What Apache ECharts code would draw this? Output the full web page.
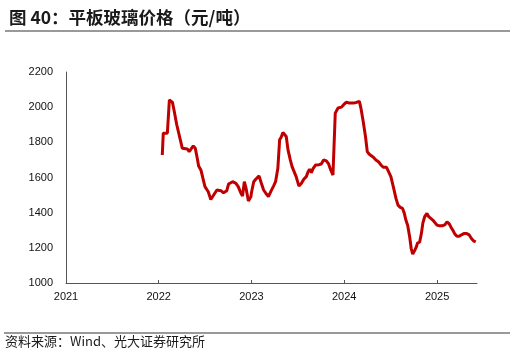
<!DOCTYPE html>
<html><head><meta charset="utf-8">
<script src="https://cdn.jsdelivr.net/npm/echarts@6/dist/echarts.min.js"></script>
<style>html,body{margin:0;padding:0;background:#fff}#c{width:516px;height:353px}</style>
</head><body><div id="c"></div>
<script>
const titleText = '图 40：平板玻璃价格（元/吨）';
const sourceText = '资料来源：Wind、光大证券研究所';
const yTicks = [1000, 1200, 1400, 1600, 1800, 2000, 2200];
const xMin = '2021-01-01';
const xMax = '2025-06-07';
const dates = [
'2022-01-15','2022-01-19','2022-02-04','2022-02-12','2022-02-24','2022-03-02','2022-03-13','2022-03-18','2022-04-04','2022-04-24',
'2022-05-01','2022-05-08','2022-05-17','2022-05-25','2022-06-03','2022-06-07','2022-06-16','2022-07-02','2022-07-15','2022-07-25',
'2022-08-01','2022-08-18','2022-09-03','2022-09-13','2022-09-26','2022-10-03','2022-10-19','2022-11-01','2022-11-10','2022-11-21',
'2022-11-27','2022-12-04','2022-12-11','2022-12-20','2022-12-30',
'2023-01-01','2023-01-10','2023-01-18','2023-01-31','2023-02-09','2023-02-18','2023-03-01','2023-03-09','2023-03-20','2023-03-29',
'2023-04-06','2023-04-15','2023-04-22','2023-04-28','2023-05-05','2023-05-11','2023-05-18','2023-05-25','2023-06-03','2023-06-10',
'2023-06-17','2023-06-26','2023-07-07','2023-07-17','2023-07-26','2023-08-05','2023-08-12','2023-08-18','2023-08-25','2023-09-01',
'2023-09-11','2023-09-24','2023-10-03','2023-10-12','2023-10-23','2023-11-01','2023-11-09','2023-11-18','2023-11-22','2023-11-27',
'2023-12-01','2023-12-08','2023-12-15','2023-12-21','2023-12-30',
'2024-01-10','2024-01-21','2024-02-05','2024-02-18','2024-03-01','2024-03-07','2024-03-16','2024-03-25','2024-04-01','2024-04-09',
'2024-04-16','2024-04-25','2024-05-05','2024-05-15','2024-05-25','2024-06-03','2024-06-16','2024-06-23','2024-07-03','2024-07-14',
'2024-07-23','2024-07-31','2024-08-09','2024-08-18','2024-08-25','2024-08-31','2024-09-07','2024-09-15','2024-09-21','2024-09-27',
'2024-10-04','2024-10-11','2024-10-16','2024-10-24','2024-10-31','2024-11-06','2024-11-13','2024-11-22','2024-11-29','2024-12-05',
'2024-12-15','2024-12-23',
'2025-01-01','2025-01-10','2025-01-20','2025-01-31','2025-02-09','2025-02-17','2025-02-24','2025-03-04','2025-03-12','2025-03-20',
'2025-03-29','2025-04-07','2025-04-16','2025-04-28','2025-05-07','2025-05-16','2025-05-24','2025-06-02'
];
const prices = [
1728,1852,1852,2042,2027,1985,1900,1890,1766,1762,
1747,1756,1780,1766,1700,1666,1643,1548,1519,1475,
1471,1529,1525,1513,1525,1563,1576,1567,1548,1510,
1494,1576,1538,1466,1491,
1513,1576,1590,1609,1567,1529,1506,1491,1525,1551,
1576,1652,1814,1829,1856,1867,1833,1757,1700,1662,
1658,1605,1551,1567,1590,1605,1633,1647,1628,1652,
1671,1673,1677,1700,1694,1677,1643,1614,1614,1966,
1970,1995,2004,2000,2014,
2029,2023,2023,2027,2033,1995,1919,1833,1747,1732,
1734,1715,1700,1690,1671,1658,1658,1647,1605,1538,
1481,1443,1430,1424,1396,1358,1329,1262,1196,1164,
1183,1205,1228,1232,1281,1342,1377,1396,1377,1367,
1358,1344,
1329,1325,1325,1331,1348,1338,1319,1300,1278,1266,
1266,1274,1281,1281,1274,1253,1240,1234
];

const chart = echarts.init(document.getElementById('c'), null, {renderer: 'canvas'});
const YEAR = 365 * 24 * 3600 * 1000;
chart.setOption({
  animation: false,
  backgroundColor: '#fff',
  title: {
    text: titleText, left: 4, top: 4,
    textStyle: {fontFamily: 'Noto Sans CJK SC', fontSize: 17.5, fontWeight: 'bold', color: '#1a1a1a'}
  },
  graphic: [
    {type: 'line', shape: {x1: 5, y1: 31, x2: 510, y2: 31}, style: {stroke: '#777', lineWidth: 1.5}},
    {type: 'line', shape: {x1: 4, y1: 333, x2: 510, y2: 333}, style: {stroke: '#777', lineWidth: 1.5}},
    {type: 'text', left: 5, top: 335, style: {text: sourceText, font: '13px "Noto Sans CJK SC"', fill: '#1a1a1a'}}
  ],
  grid: {left: 66, right: 39, top: 72, bottom: 70, containLabel: false},
  xAxis: {
    type: 'time', min: xMin, max: xMax,
    minInterval: YEAR, maxInterval: YEAR,
    axisLine: {lineStyle: {color: '#555', width: 1}},
    axisTick: {show: true, inside: true, length: 3, lineStyle: {color: '#555'}},
    axisLabel: {formatter: '{yyyy}', color: '#111', fontSize: 11, fontFamily: 'Liberation Sans', margin: 8, showMinLabel: true, showMaxLabel: false, hideOverlap: false},
    splitLine: {show: false}
  },
  yAxis: {
    type: 'value', min: yTicks[0], max: yTicks[yTicks.length - 1], interval: 200,
    axisLine: {show: true, lineStyle: {color: '#555', width: 1}},
    axisTick: {show: false},
    axisLabel: {color: '#111', fontSize: 11, fontFamily: 'Liberation Sans', margin: 13, formatter: v => String(v)},
    splitLine: {show: false}
  },
  series: [{
    type: 'line',
    data: dates.map((d, i) => [d, prices[i]]),
    showSymbol: false,
    smooth: false,
    lineStyle: {color: '#C00000', width: 3},
    itemStyle: {color: '#C00000'}
  }]
});
</script>
</body></html>
